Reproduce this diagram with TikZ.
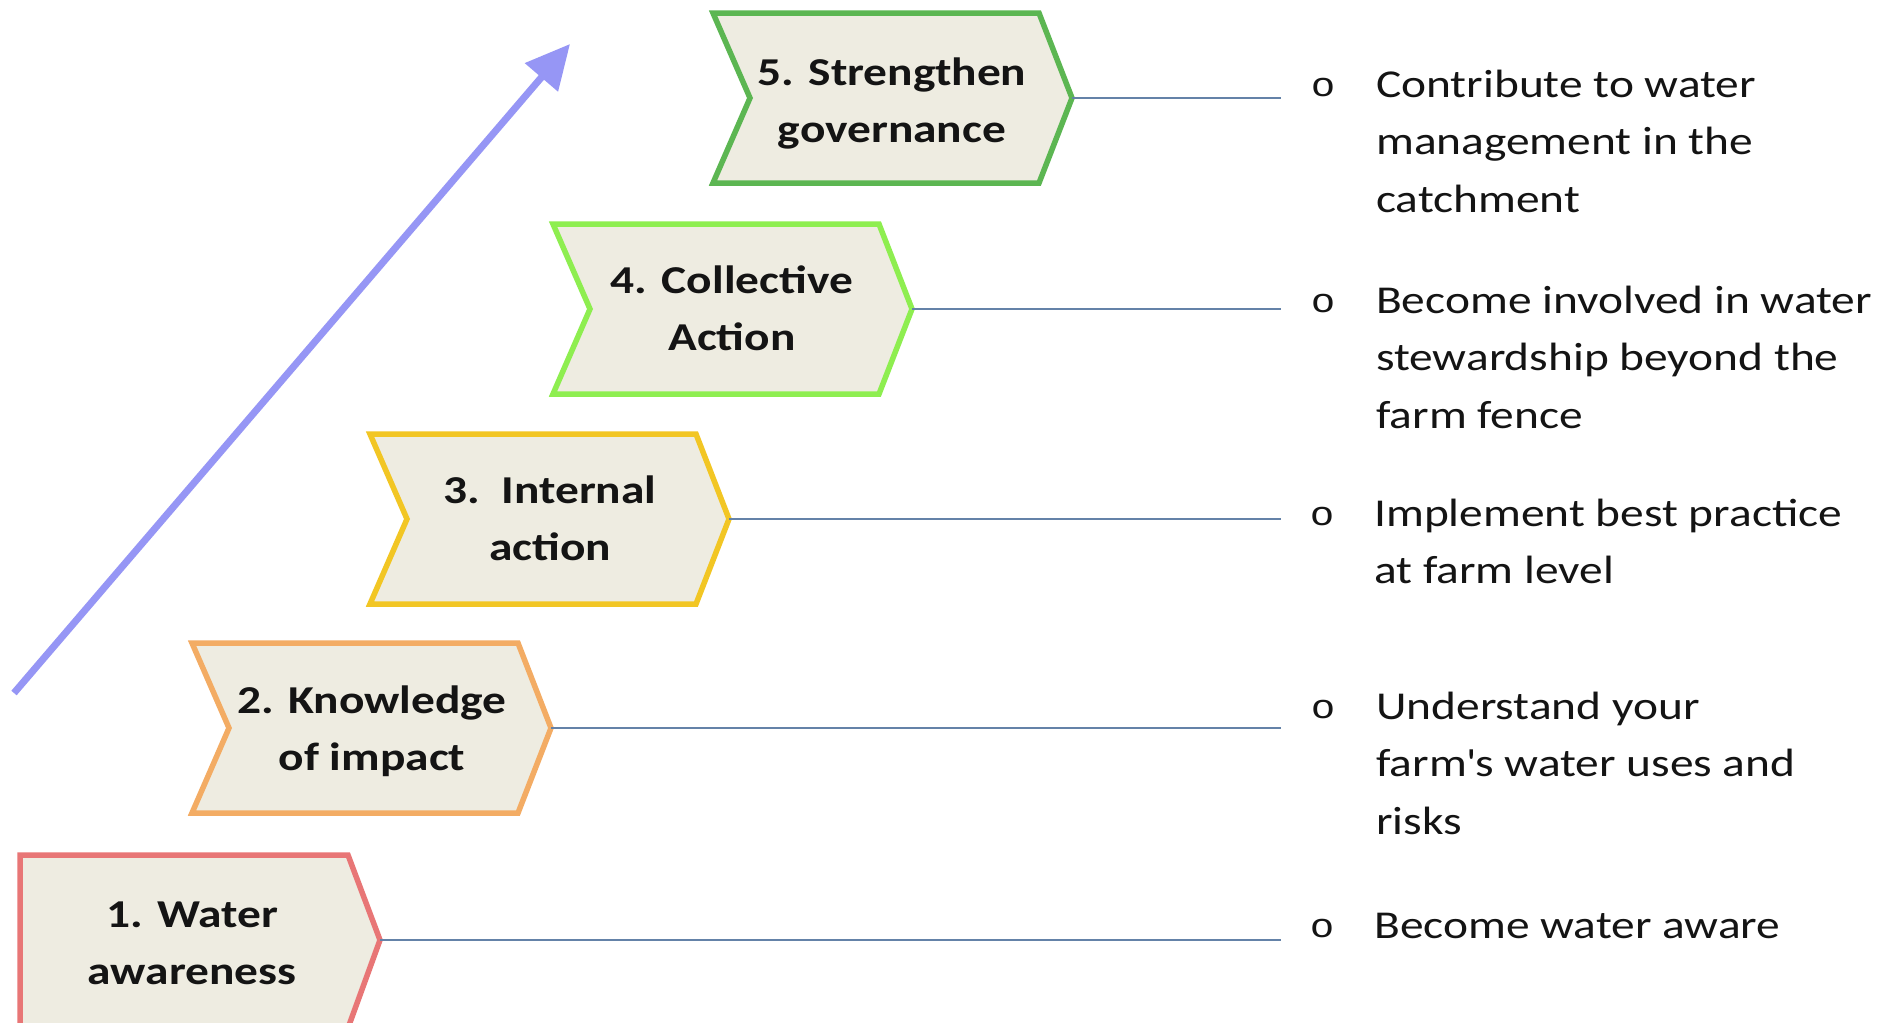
\documentclass[tikz,border=0pt]{standalone}
\usepackage{fontspec}
\setmainfont{Carlito}
\newfontfamily\bodyfont[FakeStretch=1.2]{Carlito}
\newfontfamily\bulletfont[FakeStretch=1.2]{Liberation Mono}
\usetikzlibrary{arrows.meta}
\definecolor{boxfill}{RGB}{238,236,225}
\definecolor{cone}{RGB}{232,118,118}
\definecolor{ctwo}{RGB}{243,172,100}
\definecolor{cthree}{RGB}{242,198,36}
\definecolor{cfour}{RGB}{142,238,80}
\definecolor{cfive}{RGB}{92,182,82}
\definecolor{conn}{RGB}{100,130,168}
\definecolor{arrowc}{RGB}{150,150,245}
\definecolor{txt}{RGB}{20,20,20}
\newcommand{\chevronbox}[4]{%
  \draw[stage, draw=#2] (#3,#4-85) -- (#3+326,#4-85) -- (#3+359,#4) -- (#3+326,#4+85) -- (#3,#4+85) -- (#3+37,#4) -- cycle;
  \coordinate (#1) at (#3+359,#4);
}
\begin{document}
\begin{tikzpicture}[x=1pt,y=-1pt,
  stage/.style={line width=5.5pt, fill=boxfill, line join=miter},
  stagetext/.style={font=\bodyfont\bfseries\fontsize{39.5}{57}\selectfont, text=txt, align=center, anchor=base, inner sep=0pt},
  desc/.style={font=\bodyfont\fontsize{39.5}{57.6}\selectfont, text=txt, align=left, anchor=base west, inner sep=0pt},
  bul/.style={font=\bulletfont\fontsize{34}{34}\selectfont, text=txt, anchor=base, inner sep=0pt},
  link/.style={draw=conn, line width=1.6pt}]
\fill[white] (0,0) rectangle (1883,1023);
\useasboundingbox (0,0) rectangle (1883,1023);

% progress arrow
\coordinate (a0) at (14,693);
\coordinate (a1) at (570,44);
\draw[arrowc, line width=7pt, -{Triangle[length=44pt,width=42pt]}] (a0) -- (a1);

% stage 1 (pentagon)
\draw[stage, draw=cone] (20,855) -- (348,855) -- (380,940) -- (348,1028) -- (20,1028) -- cycle;
\coordinate (tip1) at (380,940);
\chevronbox{tip2}{ctwo}{192}{728}
\chevronbox{tip3}{cthree}{370}{519}
\chevronbox{tip4}{cfour}{553}{309}
\chevronbox{tip5}{cfive}{713}{98}

% base anchor = baseline of the last line
\node[stagetext] (s1) at (192,984) {1. Water\\awareness};
\node[stagetext] (s2) at (372,770) {2. Knowledge\\of impact};
\node[stagetext] (s3) at (550,560) {3.\ \ Internal\\action};
\node[stagetext] (s4) at (732,350) {4. Collective\\Action};
\node[stagetext] (s5) at (892,142) {5. Strengthen\\governance};

% connectors
\coordinate (e1) at (1281,940);
\coordinate (e2) at (1281,728);
\coordinate (e3) at (1281,519);
\coordinate (e4) at (1281,309);
\coordinate (e5) at (1281,98);
\draw[link] (tip1) -- (e1);
\draw[link] (tip2) -- (e2);
\draw[link] (tip3) -- (e3);
\draw[link] (tip4) -- (e4);
\draw[link] (tip5) -- (e5);

% bullets and descriptions
\node[bul] (b5) at (1323,96) {o};
\node[bul] (b4) at (1323,312) {o};
\node[bul] (b3) at (1322,525) {o};
\node[bul] (b2) at (1323,718) {o};
\node[bul] (b1) at (1322,937) {o};

\node[desc] (d5) at (1376,212.2) {Contribute to water\\management in the\\catchment};
\node[desc] (d4) at (1376,428.2) {Become involved in water\\stewardship beyond the\\farm fence};
\node[desc] (d3) at (1374,583.6) {Implement best practice\\at farm level};
\node[desc] (d2) at (1376,834.2) {Understand your\\farm\textquotesingle s water uses and\\risks};
\node[desc] (d1) at (1374,938) {Become water aware};
\end{tikzpicture}
\end{document}
